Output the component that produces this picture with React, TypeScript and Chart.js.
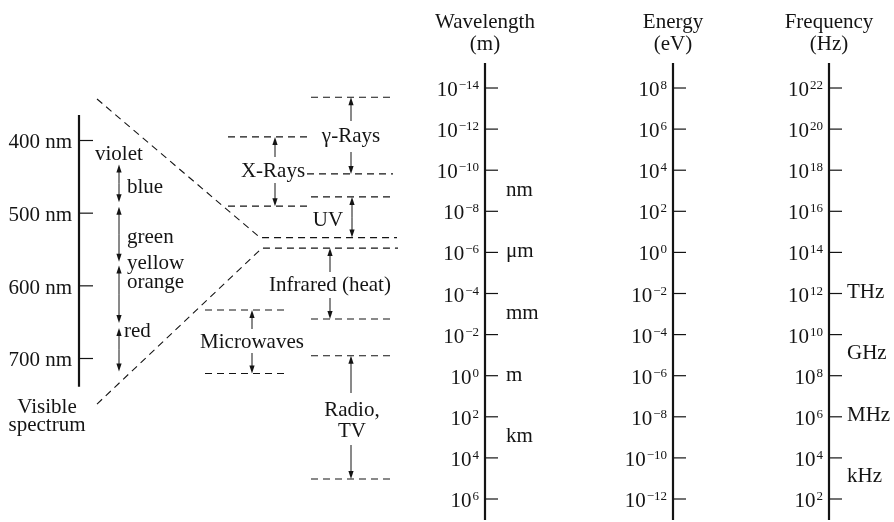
import React, { useEffect, useRef } from "react";
import { Chart, registerables } from "chart.js";

Chart.register(...registerables);

// ---------------- DATA ----------------
// Wavelength axis ticks: log10 of wavelength in metres
const WAVELENGTH_EXP = [-14, -12, -10, -8, -6, -4, -2, 0, 2, 4, 6];
// Energy axis ticks: log10 of photon energy in eV (same rows as the wavelength ticks)
const ENERGY_EXP = [8, 6, 4, 2, 0, -2, -4, -6, -8, -10, -12];
// Frequency axis ticks: log10 of frequency in Hz
const FREQUENCY_EXP = [22, 20, 18, 16, 14, 12, 10, 8, 6, 4, 2];
// Relations used by the diagram: E[eV] = 10^-6 / λ[m], f[Hz] = 10^8 / λ[m]
const ENERGY_REF = -6;
const FREQUENCY_REF = 8;

const WAVELENGTH_UNITS = ["nm", "\u03bcm", "mm", "m", "km"];
const WAVELENGTH_UNIT_EXP = [-9, -6, -3, 0, 3];
const FREQUENCY_UNITS = ["THz", "GHz", "MHz", "kHz"];
const FREQUENCY_UNIT_EXP = [12, 9, 6, 3];

// Spectral bands: log10 wavelength (m) of the short and long edge
const BANDS = ["\u03b3-Rays", "X-Rays", "UV", "Infrared (heat)", "Microwaves", "Radio,|TV"];
const BAND_SHORT_EXP = [-13.55, -11.62, -8.7, -6.21, -3.2, -0.97];
const BAND_LONG_EXP = [-9.82, -8.25, -6.72, -2.76, -0.11, 5.03];

// Visible spectrum (nm)
const VISIBLE_TICKS_NM = [400, 500, 600, 700];
const VISIBLE_AXIS_NM = [365, 739];
const COLOR_NAMES = ["violet", "blue", "green", "yellow", "orange", "red"];
const COLOR_ARROW_FROM_NM = [433, 491, 572, 658];
const COLOR_ARROW_TO_NM = [485, 567, 651, 718];

// ---------------- LAYOUT / STYLE ----------------
const FONT = '"Liberation Serif", "Times New Roman", serif';
const INK = "#141414";
const FS = 21;
const SUP = 13;
const L = {
  width: 894,
  height: 522,
  areaTop: 63,
  areaBottom: 2,
  yMin: -15.217,
  yMax: 7.022,
  visMin: 293.35,
  visMax: 922.25,
  waveAxisX: 485,
  energyAxisX: 673,
  freqAxisX: 829,
  visAxisX: 79,
  tickLen: 13,
  labelGap: 6,
  titleBase: [28, 50],
};
const TITLES = [
  { x: L.waveAxisX, lines: ["Wavelength", "(m)"] },
  { x: L.energyAxisX, lines: ["Energy", "(eV)"] },
  { x: L.freqAxisX, lines: ["Frequency", "(Hz)"] },
];
// per band: dashed line extents, arrow x, label x, label baselines, arrow tails (px)
const BAND_LAYOUT: any[] = [
  { shortX: [311, 393], longX: [307, 393], arrowX: 351, labelX: 351, base: [142], tails: [121, 152] },
  { shortX: [228, 309], longX: [228, 310], arrowX: 275, labelX: 273, base: [177], tails: [157, 183] },
  { shortX: [311, 393], longX: null, arrowX: 352, labelX: 328, base: [226], tails: null },
  { shortX: null, longX: [311, 393], arrowX: 330, labelX: 330, base: [291], tails: [272, 298] },
  { shortX: [205, 287], longX: [205, 287], arrowX: 252, labelX: 252, base: [348], tails: [329, 353] },
  { shortX: [311, 393], longX: [311, 393], arrowX: 351, labelX: 352, base: [416, 437], tails: [393, 445] },
];
const FAN = { x0: 97, topExp: -13.465, bottomExp: 1.38, upperKneeX: 260, upperEndX: 397, lowerKneeX: 262, lowerEndX: 398 };
const COLOR_LABEL_X = [95, 127, 127, 127, 127, 124];
const COLOR_LABEL_NM = [427, 472, 541, 577.5, 603.6, 671];
const COLOR_ARROW_X = 119;

function drawPow(ctx: CanvasRenderingContext2D, exp: number, right: number, base: number) {
  const sup = exp < 0 ? "\u2212" + Math.abs(exp) : String(exp);
  ctx.font = `${SUP}px ${FONT}`;
  const ws = ctx.measureText(sup).width;
  ctx.font = `${FS}px ${FONT}`;
  const wb = ctx.measureText("10").width;
  ctx.textAlign = "left";
  ctx.textBaseline = "alphabetic";
  const x0 = right - ws - 1 - wb;
  ctx.fillText("10", x0, base);
  ctx.font = `${SUP}px ${FONT}`;
  ctx.fillText(sup, x0 + wb + 1, base - 7);
}

function arrow(ctx: CanvasRenderingContext2D, x: number, yFrom: number, yTo: number) {
  const dir = Math.sign(yTo - yFrom);
  ctx.lineWidth = 1;
  ctx.beginPath();
  ctx.moveTo(x, yFrom);
  ctx.lineTo(x, yTo - dir * 5);
  ctx.stroke();
  ctx.beginPath();
  ctx.moveTo(x, yTo);
  ctx.lineTo(x - 2.6, yTo - dir * 8);
  ctx.lineTo(x + 2.6, yTo - dir * 8);
  ctx.closePath();
  ctx.fill();
}

function vline(ctx: CanvasRenderingContext2D, x: number, y0: number, y1: number, w: number) {
  ctx.lineWidth = w;
  ctx.beginPath();
  ctx.moveTo(x, y0);
  ctx.lineTo(x, y1);
  ctx.stroke();
}
function hline(ctx: CanvasRenderingContext2D, x0: number, x1: number, y: number, w: number) {
  ctx.lineWidth = w;
  ctx.beginPath();
  ctx.moveTo(x0, y);
  ctx.lineTo(x1, y);
  ctx.stroke();
}

const diagramPlugin = {
  id: "spectrumDiagram",
  afterDatasetsDraw(chart: any) {
    const ctx: CanvasRenderingContext2D = chart.ctx;
    const xs = chart.scales.x;
    const ys = chart.scales.y;
    const vs = chart.scales.yVis;
    const X = (v: number) => xs.getPixelForValue(v);
    const Y = (v: number) => ys.getPixelForValue(v);
    const V = (nm: number) => vs.getPixelForValue(nm);
    const { top, bottom } = chart.chartArea;
    ctx.save();
    ctx.fillStyle = INK;
    ctx.strokeStyle = INK;

    // titles
    ctx.font = `${FS}px ${FONT}`;
    ctx.textAlign = "center";
    ctx.textBaseline = "alphabetic";
    TITLES.forEach((t) => {
      t.lines.forEach((s, i) => ctx.fillText(s, X(t.x), L.titleBase[i]));
    });

    // three main axes
    const axes = [
      { x: L.waveAxisX, pos: WAVELENGTH_EXP.map((e) => e), exps: WAVELENGTH_EXP },
      { x: L.energyAxisX, pos: ENERGY_EXP.map((e) => ENERGY_REF - e), exps: ENERGY_EXP },
      { x: L.freqAxisX, pos: FREQUENCY_EXP.map((e) => FREQUENCY_REF - e), exps: FREQUENCY_EXP },
    ];
    axes.forEach((a) => {
      const ax = X(a.x);
      vline(ctx, ax, top, bottom, 2.2);
      a.pos.forEach((p, i) => {
        const y = Y(p);
        hline(ctx, ax, ax + L.tickLen, y, 1.2);
        drawPow(ctx, a.exps[i], ax - L.labelGap, y + 8);
      });
    });

    // unit labels
    ctx.font = `${FS}px ${FONT}`;
    ctx.textAlign = "left";
    WAVELENGTH_UNITS.forEach((u, i) => {
      ctx.fillText(u, X(L.waveAxisX) + 21, Y(WAVELENGTH_UNIT_EXP[i]) + 5);
    });
    FREQUENCY_UNITS.forEach((u, i) => {
      ctx.fillText(u, X(L.freqAxisX) + 18, Y(FREQUENCY_REF - FREQUENCY_UNIT_EXP[i]) + 4);
    });

    // band labels and arrows
    BANDS.forEach((name, i) => {
      const b = BAND_LAYOUT[i];
      ctx.font = `${FS}px ${FONT}`;
      ctx.textAlign = "center";
      name.split("|").forEach((s, k) => ctx.fillText(s, X(b.labelX), b.base[k]));
      const yTop = Y(BAND_SHORT_EXP[i]);
      const yBot = Y(BAND_LONG_EXP[i]);
      const ax = X(b.arrowX);
      if (b.tails) {
        arrow(ctx, ax, b.tails[0], yTop);
        arrow(ctx, ax, b.tails[1], yBot);
      } else {
        const mid = (yTop + yBot) / 2;
        arrow(ctx, ax, mid, yTop);
        arrow(ctx, ax, mid, yBot);
      }
    });

    // visible spectrum axis
    const vx = X(L.visAxisX);
    vline(ctx, vx, V(VISIBLE_AXIS_NM[0]), V(VISIBLE_AXIS_NM[1]), 2.2);
    ctx.font = `${FS}px ${FONT}`;
    ctx.textAlign = "right";
    VISIBLE_TICKS_NM.forEach((nm) => {
      const y = V(nm);
      hline(ctx, vx, vx + 14, y, 1.2);
      ctx.fillText(`${nm} nm`, vx - 7, y + 8);
    });
    ctx.textAlign = "left";
    COLOR_NAMES.forEach((c, i) => ctx.fillText(c, X(COLOR_LABEL_X[i]), V(COLOR_LABEL_NM[i])));
    COLOR_ARROW_FROM_NM.forEach((from, i) => {
      const y0 = V(from);
      const y1 = V(COLOR_ARROW_TO_NM[i]);
      const mid = (y0 + y1) / 2;
      arrow(ctx, X(COLOR_ARROW_X), mid, y0);
      arrow(ctx, X(COLOR_ARROW_X), mid, y1);
    });
    ctx.textAlign = "center";
    ctx.fillText("Visible", X(47), 413);
    ctx.fillText("spectrum", X(47), 431);

    ctx.restore();
  },
};

function dashed(points: { x: number; y: number }[]) {
  return {
    data: points,
    showLine: true,
    borderColor: INK,
    borderWidth: 1.1,
    borderDash: [7, 5],
    pointRadius: 0,
    fill: false,
    tension: 0,
    clip: false as any,
    xAxisID: "x",
    yAxisID: "y",
  };
}

export default function App() {
  const ref = useRef<HTMLCanvasElement>(null);
  useEffect(() => {
    const canvas = ref.current;
    if (!canvas) return;
    const datasets: any[] = [];
    BANDS.forEach((_, i) => {
      const b = BAND_LAYOUT[i];
      if (b.shortX)
        datasets.push(dashed([{ x: b.shortX[0], y: BAND_SHORT_EXP[i] }, { x: b.shortX[1], y: BAND_SHORT_EXP[i] }]));
      if (b.longX)
        datasets.push(dashed([{ x: b.longX[0], y: BAND_LONG_EXP[i] }, { x: b.longX[1], y: BAND_LONG_EXP[i] }]));
    });
    const uv = 2;
    const ir = 3;
    datasets.push(
      dashed([
        { x: FAN.x0, y: FAN.topExp },
        { x: FAN.upperKneeX, y: BAND_LONG_EXP[uv] },
        { x: FAN.upperEndX, y: BAND_LONG_EXP[uv] },
      ])
    );
    datasets.push(
      dashed([
        { x: FAN.x0, y: FAN.bottomExp },
        { x: FAN.lowerKneeX, y: BAND_SHORT_EXP[ir] },
        { x: FAN.lowerEndX, y: BAND_SHORT_EXP[ir] },
      ])
    );

    const chart = new Chart(canvas, {
      type: "scatter",
      data: { datasets },
      options: {
        responsive: true,
        maintainAspectRatio: false,
        animation: false,
        events: [],
        layout: { padding: { top: L.areaTop, bottom: L.areaBottom, left: 0, right: 0 } },
        plugins: { legend: { display: false }, tooltip: { enabled: false }, title: { display: false } },
        scales: {
          x: { type: "linear", display: false, min: 0, max: L.width },
          y: { type: "linear", display: false, reverse: true, min: L.yMin, max: L.yMax },
          yVis: { type: "linear", display: false, reverse: true, min: L.visMin, max: L.visMax },
        },
      } as any,
      plugins: [diagramPlugin],
    });
    return () => chart.destroy();
  }, []);
  return (
    <div style={{ position: "fixed", left: 0, top: 0, width: L.width, height: L.height, background: "#fff" }}>
      <canvas ref={ref} />
    </div>
  );
}
